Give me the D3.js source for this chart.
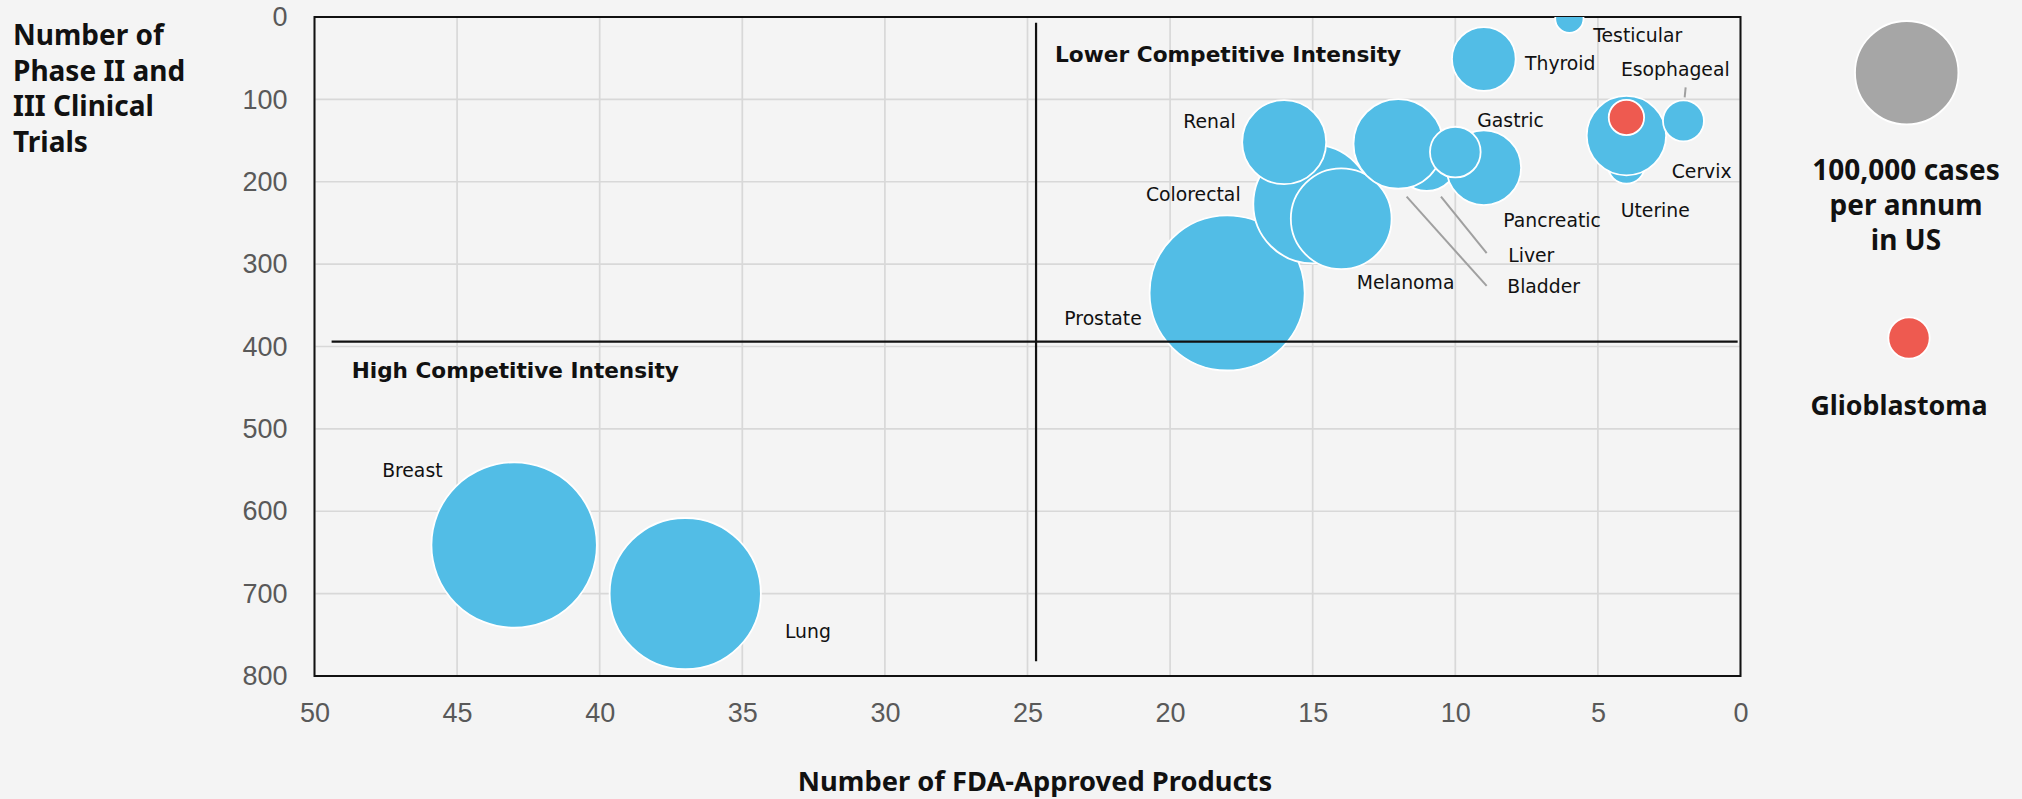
<!DOCTYPE html>
<html>
<head>
<meta charset="utf-8">
<script src="https://cdn.jsdelivr.net/npm/d3@7"></script>
<style>
  html, body { margin: 0; padding: 0; background: #f4f4f4; }
  svg { display: block; }
</style>
</head>
<body>
<svg id="chart" width="2022" height="799"></svg>
<script>
// ---------------- DATA ----------------
const categories   = ["Breast","Lung","Prostate","Colorectal","Melanoma","Renal","Liver","Bladder","Pancreatic","Gastric","Thyroid","Testicular","Cervix","Uterine","Glioblastoma","Esophageal"];
const fdaProducts  = [43, 37, 18, 15, 14, 16, 11, 12, 9, 10, 9, 6, 4, 4, 4, 2];
const clinicalTrials = [641, 700, 335, 227, 245, 152, 173, 154, 183, 164, 51, 2, 180, 144, 122, 126];
const casesPerYear = [256000, 214000, 225000, 132000, 95000, 66000, 37000, 75000, 52000, 24000, 38000, 7500, 12800, 59000, 11700, 15700];
const highlighted  = ["Glioblastoma"];
const xTicks = [50, 45, 40, 35, 30, 25, 20, 15, 10, 5, 0];
const yTicks = [0, 100, 200, 300, 400, 500, 600, 700, 800];
const quadrantX = 24.7;   // FDA products reference line
const quadrantY = 394;    // clinical trials reference line
const legendCases = 100000;
const legendGlioCases = 16000;
const xTitle = "Number of FDA-Approved Products";
const yTitleLines = ["Number of", "Phase II and", "III Clinical", "Trials"];
const legendSizeLines = ["100,000 cases", "per annum", "in US"];
const legendColorLabel = "Glioblastoma";
const quadrantLabels = ["Lower Competitive Intensity", "High Competitive Intensity"];

// ---------------- LAYOUT (pixel offsets, separate from data) ----------------
const labelOffset = {
  Breast: [-132, -68.5], Lung: [99.7, 44.5], Prostate: [-162.8, 32], Colorectal: [-166.7, -3.3],
  Melanoma: [15.5, 70.4], Renal: [-100.9, -13.9], Liver: [81.5, 102.1], Bladder: [109, 149.4],
  Pancreatic: [19.5, 58.9], Gastric: [22, -24.8], Thyroid: [41.2, 11], Testicular: [23.9, 23.1],
  Cervix: [45.3, 13], Uterine: [-5.7, 81.6], Esophageal: [-62.5, -44.8]
};
const leaderOffset = {
  Bladder: [8.4, 52.8, 88.4, 142.1],
  Liver: [14.2, 37.1, 59.9, 93.7],
  Esophageal: [2.2, -33.5, 1.2, -23.5]
};

const W = 2022, H = 799;
const plot = { left: 314.5, right: 1740.5, top: 17, bottom: 676 };
const BLUE = "#52bde6", RED = "#ee5a50", GREY = "#a6a6a6";

const svg = d3.select("#chart");
svg.append("rect").attr("width", W).attr("height", H).attr("fill", "#f4f4f4");

const x = d3.scaleLinear().domain([50, 0]).range([plot.left, plot.right]);
const y = d3.scaleLinear().domain([0, 800]).range([plot.top, plot.bottom]);
const r = d3.scaleSqrt().domain([0, 100000]).range([0, 51.7]);

// gridlines
const grid = svg.append("g");
grid.selectAll("line.v").data(xTicks).join("line")
  .attr("x1", d => x(d)).attr("x2", d => x(d)).attr("y1", plot.top).attr("y2", plot.bottom)
  .attr("stroke", "#d8d8d8").attr("stroke-width", 1.7);
grid.selectAll("line.h").data(yTicks).join("line")
  .attr("x1", plot.left).attr("x2", plot.right).attr("y1", d => y(d)).attr("y2", d => y(d))
  .attr("stroke", "#d8d8d8").attr("stroke-width", 1.7);

// axes
const xAxis = svg.append("g").attr("transform", `translate(0,${plot.bottom})`)
  .call(d3.axisBottom(x).tickValues(xTicks).tickSize(0).tickPadding(27).tickFormat(d3.format("d")));
const yAxis = svg.append("g").attr("transform", `translate(${plot.left},0)`)
  .call(d3.axisLeft(y).tickValues(yTicks).tickSize(0).tickPadding(27).tickFormat(d3.format("d")));
[xAxis, yAxis].forEach(a => {
  a.select(".domain").remove();
  a.selectAll("text").attr("font-family", "'Liberation Sans', Arial, sans-serif")
    .attr("font-size", 27).attr("fill", "#595959");
});

// border
svg.append("rect").attr("x", plot.left).attr("y", plot.top)
  .attr("width", plot.right - plot.left).attr("height", plot.bottom - plot.top)
  .attr("fill", "none").attr("stroke", "#111").attr("stroke-width", 2);

// bubbles
svg.append("clipPath").attr("id", "plotclip").append("rect")
  .attr("x", plot.left).attr("y", plot.top).attr("width", plot.right - plot.left).attr("height", plot.bottom - plot.top);

const data = categories.map((c, i) => ({
  name: c, fda: fdaProducts[i], trials: clinicalTrials[i], cases: casesPerYear[i]
}));

svg.append("g").attr("clip-path", "url(#plotclip)")
  .selectAll("circle").data(data).join("circle")
  .attr("cx", d => x(d.fda)).attr("cy", d => y(d.trials)).attr("r", d => r(d.cases))
  .attr("fill", d => highlighted.includes(d.name) ? RED : BLUE)
  .attr("stroke", "#fff").attr("stroke-width", 1.8);

// quadrant reference lines
svg.append("line").attr("x1", x(quadrantX)).attr("x2", x(quadrantX)).attr("y1", y(7)).attr("y2", y(782))
  .attr("stroke", "#111").attr("stroke-width", 2.2);
svg.append("line").attr("x1", x(49.4)).attr("x2", x(0.1)).attr("y1", y(quadrantY)).attr("y2", y(quadrantY))
  .attr("stroke", "#111").attr("stroke-width", 2.2);

// leader lines
const leaders = data.filter(d => leaderOffset[d.name]);
svg.append("g").selectAll("line").data(leaders).join("line")
  .attr("x1", d => x(d.fda) + leaderOffset[d.name][0]).attr("y1", d => y(d.trials) + leaderOffset[d.name][1])
  .attr("x2", d => x(d.fda) + leaderOffset[d.name][2]).attr("y2", d => y(d.trials) + leaderOffset[d.name][3])
  .attr("stroke", "#a0a0a0").attr("stroke-width", 2);

// bubble labels
const labelFont = "'DejaVu Sans', 'Noto Sans', sans-serif";
svg.append("g").selectAll("text").data(data.filter(d => labelOffset[d.name])).join("text")
  .attr("x", d => x(d.fda) + labelOffset[d.name][0])
  .attr("y", d => y(d.trials) + labelOffset[d.name][1])
  .attr("font-family", labelFont).attr("font-size", 18.8).attr("fill", "#111")
  .text(d => d.name);

// quadrant labels
const quadFont = "'DejaVu Sans', sans-serif";
svg.append("text").attr("x", 1055).attr("y", 62.3)
  .attr("font-family", quadFont).attr("font-weight", 700).attr("font-size", 21.7).attr("fill", "#111")
  .text(quadrantLabels[0]);
svg.append("text").attr("x", 351.7).attr("y", 378.3)
  .attr("font-family", quadFont).attr("font-weight", 700).attr("font-size", 21.6).attr("fill", "#111")
  .text(quadrantLabels[1]);

// axis titles
const boldFont = "'Noto Sans', 'Open Sans', sans-serif";
svg.append("text").attr("x", 1035).attr("y", 791)
  .attr("text-anchor", "middle").attr("font-family", boldFont).attr("font-weight", 700)
  .attr("font-size", 27.3).attr("fill", "#111").text(xTitle);
svg.append("text").attr("font-family", boldFont).attr("font-weight", 700).attr("font-size", 28).attr("fill", "#111")
  .selectAll("tspan").data(yTitleLines).join("tspan")
  .attr("x", 13).attr("y", (d, i) => 45 + i * 35.5).text(d => d);

// legend
const lg = svg.append("g");
lg.append("circle").attr("cx", 1906.7).attr("cy", 72.7).attr("r", r(legendCases))
  .attr("fill", GREY).attr("stroke", "#fff").attr("stroke-width", 1.8);
lg.append("text").attr("font-family", boldFont).attr("font-weight", 700).attr("font-size", 28)
  .attr("fill", "#111").attr("text-anchor", "middle")
  .selectAll("tspan").data(legendSizeLines).join("tspan")
  .attr("x", 1906).attr("y", (d, i) => 180 + i * 35).text(d => d);
lg.append("circle").attr("cx", 1909).attr("cy", 338).attr("r", r(legendGlioCases))
  .attr("fill", RED).attr("stroke", "#fff").attr("stroke-width", 1.8);
lg.append("text").attr("x", 1899).attr("y", 415).attr("text-anchor", "middle")
  .attr("font-family", boldFont).attr("font-weight", 700).attr("font-size", 26.8).attr("fill", "#111")
  .text(legendColorLabel);
</script>
</body>
</html>
